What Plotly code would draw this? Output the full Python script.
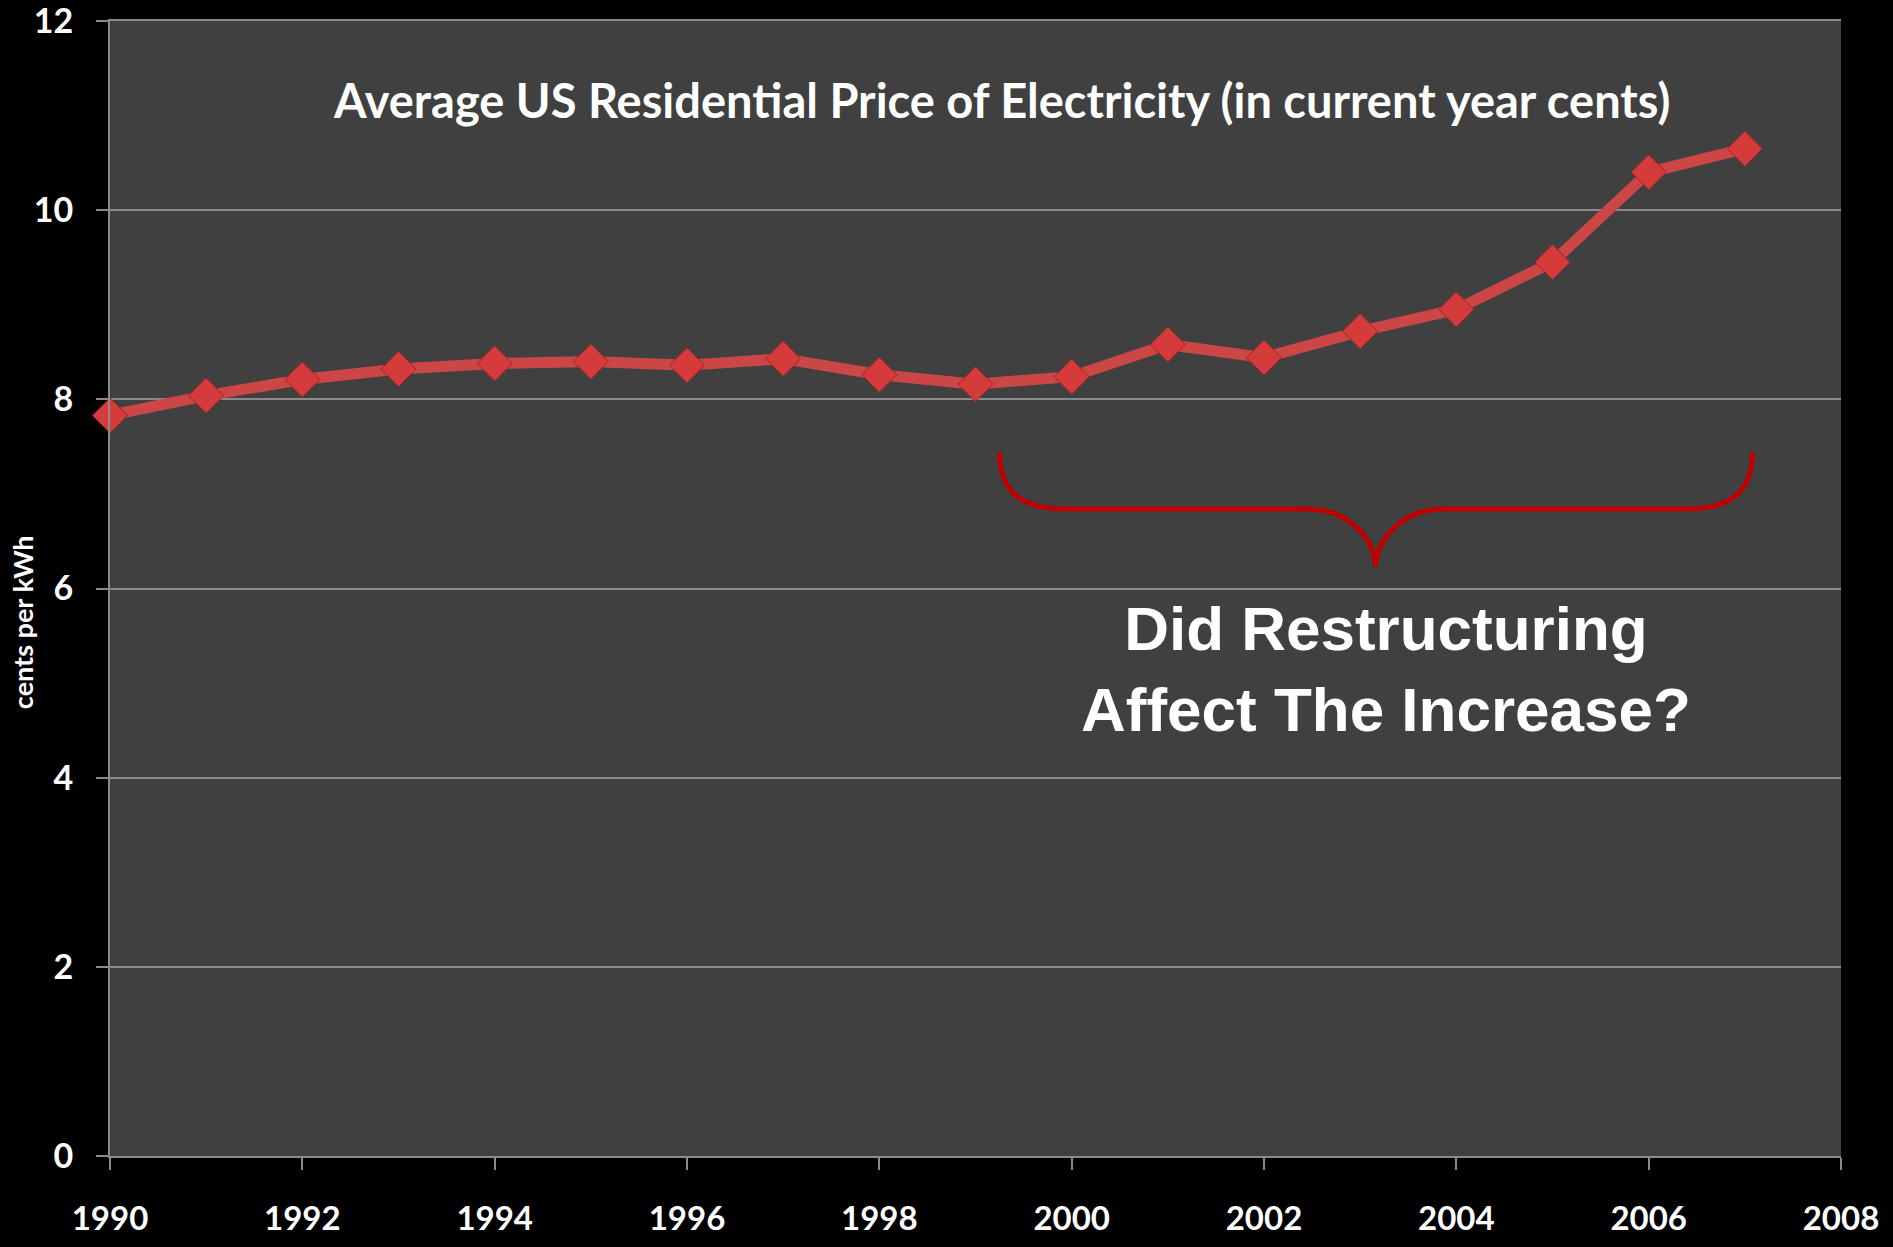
import plotly.graph_objects as go

years = list(range(1990, 2008))
price = [7.83, 8.04, 8.21, 8.32, 8.38, 8.40, 8.36, 8.43, 8.26, 8.16,
         8.24, 8.58, 8.44, 8.72, 8.95, 9.45, 10.40, 10.65]
x_ticks = [1990, 1992, 1994, 1996, 1998, 2000, 2002, 2004, 2006, 2008]
y_ticks = [0, 2, 4, 6, 8, 10, 12]
title_text = "Average US Residential Price of Electricity (in current year cents)"
y_title = "cents per kWh"
question = "Did Restructuring<br>Affect The Increase?"

fig = go.Figure()
fig.add_trace(go.Scatter(
    x=years, y=price, mode="lines+markers", cliponaxis=False,
    line=dict(color="#CC4646", width=11),
    marker=dict(symbol="diamond", size=27, color="#D63B3B",
                line=dict(color="#9E2424", width=1)),
    showlegend=False, hoverinfo="x+y"))

# curly brace over 1999-2007
brace = ("M 1999.25,7.44 C 1999.25,7.0 1999.5,6.84 1999.95,6.84 "
         "L 2002.45,6.84 C 2002.9,6.84 2003.16,6.5 2003.16,6.23 "
         "C 2003.16,6.5 2003.42,6.84 2003.87,6.84 "
         "L 2006.38,6.84 C 2006.83,6.84 2007.08,7.0 2007.08,7.44")
fig.add_shape(type="path", path=brace, xref="x", yref="y",
              line=dict(color="#C00000", width=5))

fig.add_annotation(x=2003.27, y=5.15, xref="x", yref="y",
                   text="<b>" + question.replace("<br>", "</b><br><b>") + "</b>",
                   showarrow=False, align="center",
                   font=dict(family="Liberation Sans", size=62, color="white"))
fig.add_annotation(x=0.515, y=0.930, xref="paper", yref="paper",
                   text="<b>" + title_text + "</b>", showarrow=False,
                   xanchor="center", yanchor="middle",
                   font=dict(family="Lato", size=47, color="white"))
fig.add_annotation(x=-0.0505, y=0.470, xref="paper", yref="paper",
                   text="<b>" + y_title + "</b>", showarrow=False,
                   textangle=-90, xanchor="center", yanchor="middle",
                   font=dict(family="Lato", size=27, color="white"))

fig.update_layout(
    width=1893, height=1247,
    margin=dict(l=110, r=52, t=21, b=91),
    paper_bgcolor="black", plot_bgcolor="#404040",
    font=dict(family="Lato", color="white"),
    xaxis=dict(range=[1990, 2008], tickvals=x_ticks,
               ticktext=["<b>%d</b>" % v for v in x_ticks],
               showgrid=False, zeroline=False, showline=True, mirror=True,
               linecolor="#8a8a8a", linewidth=2, automargin=False,
               ticks="outside", ticklen=12, tickcolor="#8a8a8a", tickwidth=2,
               tickfont=dict(family="Lato", size=33, color="white"),
               ticklabelstandoff=20),
    yaxis=dict(range=[0, 12], tickvals=y_ticks,
               ticktext=["<b>%d</b>" % v for v in y_ticks],
               showgrid=True, gridcolor="#8a8a8a", gridwidth=1.5,
               zeroline=False, showline=True, automargin=False,
               linecolor="#8a8a8a", linewidth=2,
               ticks="outside", ticklen=12, tickcolor="#8a8a8a", tickwidth=2,
               tickfont=dict(family="Lato", size=34, color="white"),
               ticklabelstandoff=16, ticklabeloverflow="allow"),
)

fig.write_html("out.html")
